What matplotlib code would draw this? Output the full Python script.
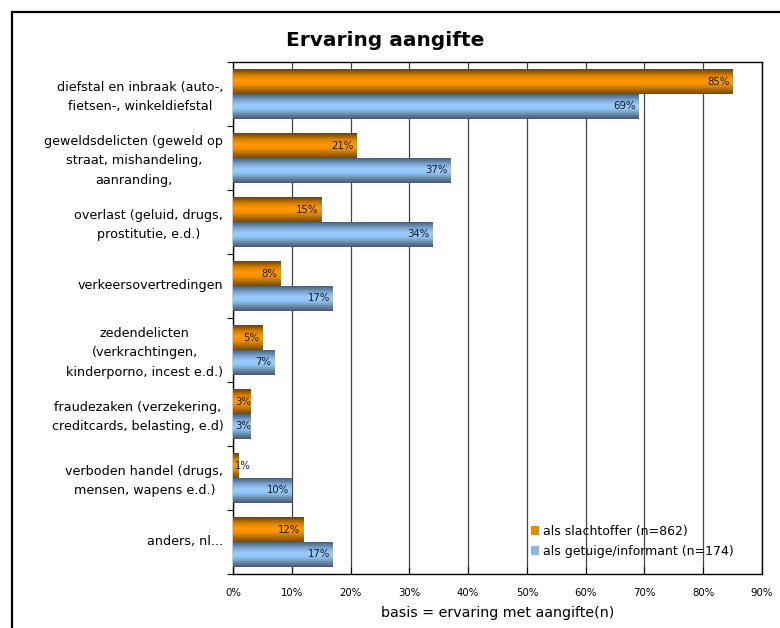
import numpy as np
import matplotlib
matplotlib.use("Agg")
import matplotlib.pyplot as plt
from matplotlib.patches import Rectangle, Patch
from matplotlib.colors import LinearSegmentedColormap

categories = [
    "diefstal en inbraak (auto-,\nfietsen-, winkeldiefstal",
    "geweldsdelicten (geweld op\nstraat, mishandeling,\naanranding,",
    "overlast (geluid, drugs,\nprostitutie, e.d.)",
    "verkeersovertredingen",
    "zedendelicten\n(verkrachtingen,\nkinderporno, incest e.d.)",
    "fraudezaken (verzekering,\ncreditcards, belasting, e.d)",
    "verboden handel (drugs,\nmensen, wapens e.d.)",
    "anders, nl...",
]
slachtoffer = [85, 21, 15, 8, 5, 3, 1, 12]
getuige = [69, 37, 34, 17, 7, 3, 10, 17]
xticks = [0, 10, 20, 30, 40, 50, 60, 70, 80, 90]
xtick_labels = ["0%", "10%", "20%", "30%", "40%", "50%", "60%", "70%", "80%", "90%"]
legend_labels = ["als slachtoffer (n=862)", "als getuige/informant (n=174)"]
title = "Ervaring aangifte"
xlabel = "basis = ervaring met aangifte(n)"

orange_cmap = LinearSegmentedColormap.from_list(
    "or", [(0.0, "#6e4200"), (0.25, "#d88000"), (0.45, "#ff9900"), (0.6, "#f79400"), (1.0, "#7a4a00")])
blue_cmap = LinearSegmentedColormap.from_list(
    "bl", [(0.0, "#4a5f78"), (0.25, "#7fa8d8"), (0.45, "#99ccff"), (0.6, "#93c4f5"), (1.0, "#45586e")])

plt.rcParams['font.family'] = ['DejaVu Sans']
fig = plt.figure(figsize=(7.8, 6.28), dpi=100)
ax = fig.add_axes([233/780, 1-574/628, (762-233)/780, (574-62)/628])

# figure border
fig.patches.append(Rectangle((11.5/780, -0.1), 2.0, 1-11.5/628+0.1, transform=fig.transFigure,
                             fill=False, edgecolor="black", linewidth=1.6, zorder=0))

n = len(categories)
y = np.arange(n)
h = 0.39
b1 = ax.barh(y - h/2, slachtoffer, height=h, color="#ff9900", zorder=3)
b2 = ax.barh(y + h/2, getuige, height=h, color="#99ccff", zorder=3)

grad = np.linspace(0, 1, 64).reshape(-1, 1)
for bars, cmap in ((b1, orange_cmap), (b2, blue_cmap)):
    for p in bars:
        x0, yb = p.get_x(), p.get_y()
        w, hh = p.get_width(), p.get_height()
        im = ax.imshow(grad, cmap=cmap, aspect="auto", extent=(x0, x0 + w, yb + hh, yb),
                       origin="upper", zorder=4, interpolation="bilinear")
        im.set_clip_path(p)

for vals, off in ((slachtoffer, -h/2), (getuige, h/2)):
    for i, v in enumerate(vals):
        if v >= 4:
            ax.text(v - 0.5, i + off, f"{v}%", ha="right", va="center", fontsize=7.3,
                    color="#1a1a1a", zorder=5)
        else:
            ax.text(0.3, i + off, f"{v}%", ha="left", va="center", fontsize=7.3,
                    color="#1a1a1a", zorder=5)

ax.set_xlim(0, 90)
ax.set_ylim(n - 0.5, -0.5)
ax.set_xticks(xticks)
ax.set_xticklabels(xtick_labels, fontsize=7.3)
ax.set_yticks(y - 0.03)
ax.set_yticklabels(categories, fontsize=9.2, multialignment="center", linespacing=1.68)
ax.tick_params(axis="y", length=0, pad=7)
ax.set_yticks(np.arange(n + 1) - 0.5, minor=True)
ax.tick_params(axis="y", which="minor", length=4, direction="out", width=0.8)
ax.tick_params(axis="x", length=5, direction="in", width=0.8, pad=10)
ax.grid(axis="x", color="#444444", linewidth=0.9, zorder=1)
ax.set_axisbelow(True)
for s in ax.spines.values():
    s.set_linewidth(1.0)
    s.set_color("black")

ax.set_xlabel(xlabel, fontsize=10.3, labelpad=6)
fig.text(385/780, 1-40/628, title, ha="center", va="center", fontsize=14.5, fontweight="bold")

handles = [Patch(facecolor="#e88a00", edgecolor="none"), Patch(facecolor="#8ab8e8", edgecolor="none")]
leg = ax.legend(handles, legend_labels, loc="lower right", bbox_to_anchor=(0.968, 0.01), frameon=False,
                fontsize=9, handlelength=0.7, handleheight=0.8, handletextpad=0.3, labelspacing=0.55)
leg.set_zorder(6)

fig.savefig("out.png", dpi=100)
